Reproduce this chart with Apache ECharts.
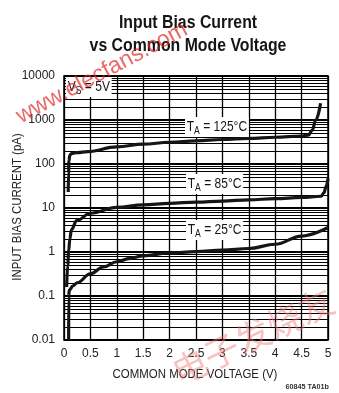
<!DOCTYPE html>
<html>
<head>
<meta charset="utf-8">
<script src="https://cdn.jsdelivr.net/npm/echarts@6/dist/echarts.min.js"></script>
<style>html,body{margin:0;padding:0;background:#fff}#c{width:339px;height:393px}</style>
</head>
<body>
<div id="c"></div>
<script>
// ---- data ----
var xTicks = ['0','0.5','1','1.5','2','2.5','3','3.5','4','4.5','5'];
var yTickLabels = ['0.01','0.1','1','10','100','1000','10000'];
var decades = [0.01, 0.1, 1, 10, 100, 1000];
var minorMultipliers = [2,3,4,5,6,7,8,9];

var x125 = [0.08, 0.085, 0.095, 0.11, 0.14, 0.25, 0.45, 1, 1.5, 2, 2.5, 3, 3.5, 4, 4.5, 4.63, 4.7, 4.77, 4.86];
var y125 = [23, 60, 120, 158, 173, 182, 192, 245, 282, 312, 336, 360, 382, 405, 433, 455, 580, 1000, 2400];

var x85 = [0.05, 0.07, 0.09, 0.11, 0.14, 0.24, 0.5, 1, 1.5, 2, 2.5, 3, 3.5, 4, 4.5, 4.87, 4.92, 4.97, 5];
var y85 = [0.16, 0.5, 1.1, 2.0, 3.2, 5.2, 7.6, 10.3, 11.8, 12.8, 13.6, 14.4, 15.3, 16.3, 17.4, 18.5, 22, 32, 47];

var x25 = [0.088, 0.09, 0.1, 0.17, 0.25, 0.5, 0.75, 1, 1.25, 1.5, 2, 2.5, 3, 3.5, 4, 4.5, 5];
var y25 = [0.01, 0.1, 0.137, 0.17, 0.2, 0.32, 0.46, 0.6, 0.72, 0.82, 0.95, 1.02, 1.1, 1.2, 1.5, 2.3, 3.6];

function pairs(xs, ys){ return xs.map(function(x,i){ return [x, ys[i]]; }); }

var minorLines = [];
decades.forEach(function(d){ minorMultipliers.forEach(function(m){ minorLines.push({yAxis: +(d*m).toPrecision(3)}); }); });

var FONT = "'Liberation Sans',Arial,sans-serif";
var chart = echarts.init(document.getElementById('c'), null, {renderer:'canvas'});

function curve(name, data){
  return {name:name, type:'line', data:data, showSymbol:false, symbol:'none', smooth:0.4, smoothMonotone:'x',
          lineStyle:{color:'#151515', width:3.2}, z:5, silent:true, animation:false};
}
function lbl(t, sub, rest, x, y){
  return {type:'text', x:x, y:y, z:100, scaleX:0.86, style:{
    text:'{a|'+t+'}{s|'+sub+'}{a|'+rest+'}',
    rich:{a:{fontFamily:FONT, fontSize:14, fill:'#151515'}, s:{fontFamily:FONT, fontSize:10, fill:'#151515', padding:[8,0,0,0]}},
    backgroundColor:'#fff', padding:[1,2,1,2], verticalAlign:'middle'
  }};
}

chart.setOption({
  animation:false,
  backgroundColor:'#fff',
  grid:{left:64, top:76, width:264, height:264, show:true, borderColor:'#000', borderWidth:1.5, backgroundColor:'transparent'},
  xAxis:{type:'value', min:0, max:5, interval:0.5,
    axisLine:{show:false}, axisTick:{show:false},
    axisLabel:{fontFamily:FONT, fontSize:12, color:'#222', margin:8,
      formatter:function(v){ return xTicks[Math.round(v*2)]; }},
    splitLine:{show:true, lineStyle:{color:'#000', width:1.3}}},
  yAxis:{type:'log', logBase:10, min:0.01, max:10000,
    axisLine:{show:false}, axisTick:{show:false},
    axisLabel:{fontFamily:FONT, fontSize:12, color:'#222', margin:9,
      formatter:function(v){ return yTickLabels[Math.round(Math.log10(v))+2]; }},
    splitLine:{show:true, lineStyle:{color:'#000', width:2}}},
  series:[
    {type:'line', data:[], silent:true, z:1,
     markLine:{silent:true, symbol:['none','none'], label:{show:false}, animation:false,
       lineStyle:{color:'#000', width:1, type:'solid'}, data:minorLines}},
    curve('125', pairs(x125, y125)),
    curve('85', pairs(x85, y85)),
    curve('25', pairs(x25, y25))
  ],
  graphic:[
    {type:'text', x:188, y:23, z:100, scaleX:0.88, style:{text:'Input Bias Current', fontFamily:FONT, fontWeight:'bold', fontSize:18, fill:'#151515', align:'center', verticalAlign:'middle'}},
    {type:'text', x:188, y:46, z:100, scaleX:0.88, style:{text:'vs Common Mode Voltage', fontFamily:FONT, fontWeight:'bold', fontSize:18, fill:'#151515', align:'center', verticalAlign:'middle'}},
    {type:'text', x:17, y:207, rotation:Math.PI/2, scaleX:0.88, z:100, style:{text:'INPUT BIAS CURRENT (pA)', fontFamily:FONT, fontSize:13, fill:'#222', align:'center', verticalAlign:'middle'}},
    {type:'text', x:195, y:374, z:100, scaleX:0.88, style:{text:'COMMON MODE VOLTAGE (V)', fontFamily:FONT, fontSize:13, fill:'#222', align:'center', verticalAlign:'middle'}},
    {type:'text', x:329, y:387, z:100, scaleX:0.9, style:{text:'60845 TA01b', fontFamily:FONT, fontSize:8, fontWeight:'bold', fill:'#333', align:'right', verticalAlign:'middle'}},
    lbl('V','S',' = 5V', 66, 87),
    lbl('T','A',' = 125°C', 185, 127),
    lbl('T','A',' = 85°C', 186, 184),
    lbl('T','A',' = 25°C', 186, 230),
    {type:'text', x:102, y:73, rotation:0.49, z:110, style:{text:'www.elecfans.com', fontFamily:FONT, fontSize:23, fill:'rgba(225,40,40,0.7)', align:'center', verticalAlign:'middle'}},
    {type:'text', x:253, y:336, rotation:0.45, z:110, style:{text:'电子发烧友', fontFamily:"'Noto Sans CJK SC',sans-serif", fontSize:35, fill:'rgba(240,120,120,0.45)', align:'center', verticalAlign:'middle'}}
  ]
});
</script>
</body>
</html>
